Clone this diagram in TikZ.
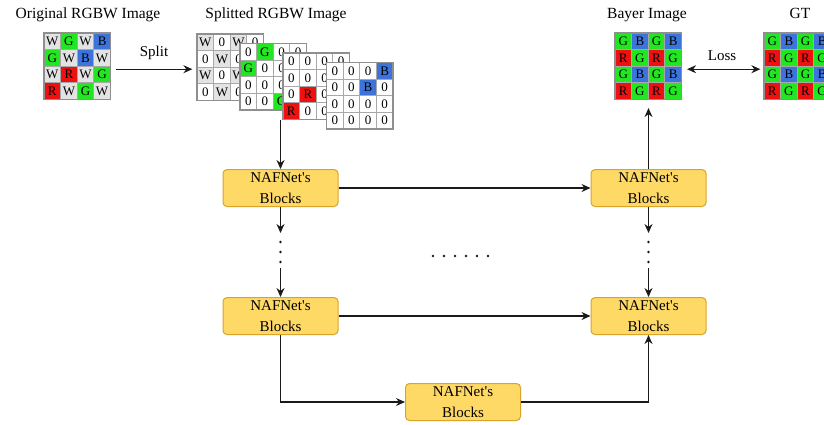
\documentclass[tikz,border=0pt]{standalone}
\usepackage{fontspec}
\setmainfont{Liberation Serif}[Ligatures=TeXOff]
\usetikzlibrary{arrows.meta}
\definecolor{cW}{HTML}{E3E3E3}
\definecolor{c0}{HTML}{FFFFFF}
\definecolor{cG}{HTML}{22E622}
\definecolor{cR}{HTML}{EE1111}
\definecolor{cB}{HTML}{3D74DB}
\definecolor{gridline}{HTML}{A8A8A8}
\definecolor{blockfill}{HTML}{FFD966}
\definecolor{blockline}{HTML}{D9A428}
\definecolor{arrowc}{HTML}{1A1A1A}
\newcommand\cellsz{16.6}
\newcommand\nafname{NAFNet's\\Blocks}
\newcommand\mygrid[4]{%
  \foreach \row [count=\i] in {#4} {
    \foreach \ch [count=\j] in \row {
      \node[cell, fill=c\ch] (#1-\i-\j) at ({#2+(\j-0.5)*\cellsz},{#3+(\i-0.5)*\cellsz}) {\ch};
    }
  }
  \node[gridframe] (#1) at ({#2+2*\cellsz},{#3+2*\cellsz}) {};
}
\tikzset{
  cell/.style={draw=gridline, line width=0.7pt, minimum size=\cellsz pt, inner sep=0pt,
    font=\fontsize{13}{13}\selectfont},
  gridframe/.style={draw=gridline!85!black, line width=1.3pt, minimum size=66.4pt, inner sep=0pt},
  titletext/.style={font=\fontsize{15.5}{18}\selectfont, anchor=base, inner sep=0pt},
  blockbox/.style={draw=blockline, fill=blockfill, rounded corners=4pt, line width=1pt,
    minimum width=115pt, minimum height=37pt, align=center, inner sep=0pt,
    font=\fontsize{15}{21}\selectfont},
  arr/.style={draw=arrowc, line width=1.2pt, -{Stealth[length=9pt,width=8pt]}},
  dotmark/.style={fill=arrowc, draw=none},
}
\begin{document}
\begin{tikzpicture}[x=1pt,y=-1pt]
\clip (0,0) rectangle (824,424);
\fill[white] (0,0) rectangle (824,424);

% titles
\node[titletext] (t1) at (88,18.5) {Original RGBW Image};
\node[titletext] (t2) at (276,18.5) {Splitted RGBW Image};
\node[titletext] (t3) at (647,18.5) {Bayer Image};
\node[titletext] (t4) at (800,18.5) {GT};

% original image
\mygrid{orig}{44}{33}{{W,G,W,B},{G,W,B,W},{W,R,W,G},{R,W,G,W}}

% splitted stack
\mygrid{sa}{197}{34}{{W,0,W,0},{0,W,0,W},{W,0,W,0},{0,W,0,W}}
\mygrid{sb}{240}{43.5}{{0,G,0,0},{G,0,0,0},{0,0,0,G},{0,0,G,0}}
\mygrid{sc}{283}{53}{{0,0,0,0},{0,0,0,0},{0,R,0,0},{R,0,0,0}}
\mygrid{sd}{326.5}{62.5}{{0,0,0,B},{0,0,B,0},{0,0,0,0},{0,0,0,0}}

% bayer and GT
\mygrid{bayer}{615}{33}{{G,B,G,B},{R,G,R,G},{G,B,G,B},{R,G,R,G}}
\mygrid{gt}{764}{33}{{G,B,G,B},{R,G,R,G},{G,B,G,B},{R,G,R,G}}

% split arrow
\node[font=\fontsize{15}{18}\selectfont, anchor=base, inner sep=0pt] (splitlbl) at (154,56) {Split};
\draw[arr] ([shift={(5,3)}]orig.east) -- ([shift={(-4,3)}]orig.east -| sa.west);

% loss arrow
\node[font=\fontsize{15}{18}\selectfont, anchor=base, inner sep=0pt] (losslbl) at (722,60) {Loss};
\draw[draw=arrowc, line width=1.2pt, {Stealth[length=9pt,width=8pt]}-{Stealth[length=9pt,width=8pt]}]
  ([shift={(5,3)}]bayer.east) -- ([shift={(-3,3)}]bayer.east -| gt.west);

% blocks
\node[blockbox] (b1) at (280.5,188) {\nafname};
\node[blockbox] (b2) at (280.5,316) {\nafname};
\node[blockbox] (b4) at (648.5,188) {\nafname};
\node[blockbox] (b3) at (648.5,316) {\nafname};
\node[blockbox] (b5) at (463,402) {\nafname};

% stack to first block
\coordinate (stackout) at (b1.north |- sc.south);
\draw[arr] (stackout) -- (b1.north);

% left column with dots
\coordinate (la) at (280.5,233);
\coordinate (lb) at (280.5,268);
\draw[arr] (b1.south) -- (la);
\foreach \yy in {242,252,262} \fill[dotmark] (280.5,\yy) circle (1.3);
\draw[arr] (lb) -- (b2.north);

% right column with dots
\coordinate (ra) at (648.5,233);
\coordinate (rb) at (648.5,268);
\draw[arr] (b4.south) -- (ra);
\foreach \yy in {242,252,262} \fill[dotmark] (648.5,\yy) circle (1.3);
\draw[arr] (rb) -- (b3.north);

% horizontal skips
\draw[arr] (b1.east) -- (b4.west);
\draw[arr] (b2.east) -- (b3.west);

% middle dots
\foreach \xx in {433,444,455,466,477,488} \fill[dotmark] (\xx,256) circle (1.3);

% bottom route
\draw[arr] (b2.south) |- (b5.west);
\draw[arr] (b5.east) -| (b3.south);

% to bayer
\draw[arr, shorten >=8pt] (b4.north) -- (b4.north |- bayer.south);
\end{tikzpicture}
\end{document}
